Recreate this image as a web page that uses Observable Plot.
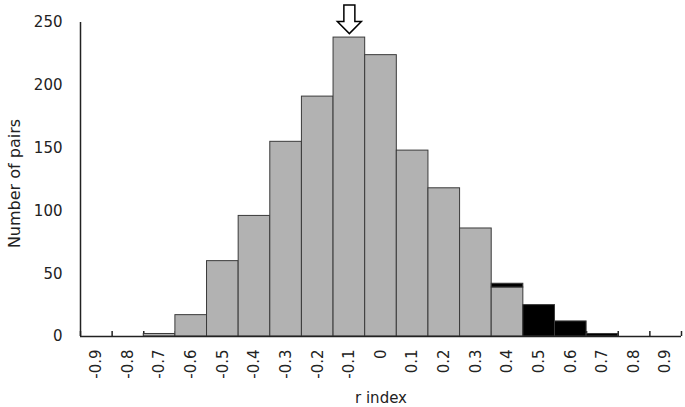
<!DOCTYPE html>
<html>
<head>
<meta charset="utf-8">
<script src="https://cdn.jsdelivr.net/npm/d3@7"></script>
<script src="https://cdn.jsdelivr.net/npm/@observablehq/plot@0.6"></script>
<style>
  html, body { margin: 0; padding: 0; background: #fff; }
  svg { display: block; }
</style>
</head>
<body>
<div id="chart"></div>
<script>
// Data
const categories = ["-0.9","-0.8","-0.7","-0.6","-0.5","-0.4","-0.3","-0.2","-0.1","0","0.1","0.2","0.3","0.4","0.5","0.6","0.7","0.8","0.9"];
const grayCounts  = [0, 0, 2, 17, 60, 96, 155, 191, 238, 224, 148, 118, 86, 39, 0, 0, 0, 0, 0];
const blackCounts = [0, 0, 0, 0, 0, 0, 0, 0, 0, 0, 0, 0, 0, 3, 25, 12, 2, 0, 0];
const yTicks = [0, 50, 100, 150, 200, 250];
const xTitle = "r index";
const yTitle = "Number of pairs";

const table = [];
categories.forEach((r, i) => {
  if (grayCounts[i] > 0) table.push({r, series: "main", count: grayCounts[i]});
  if (blackCounts[i] > 0) table.push({r, series: "high", count: blackCounts[i]});
});
const totals = categories.map((r, i) => ({r, total: grayCounts[i] + blackCounts[i]}));
const peak = [d3.greatest(totals, d => d.total)];

// layout
const W = 685, H = 407, mL = 80, mR = 4, mT = 22, mB = 71;
const bw = (W - mL - mR) / categories.length;
const ink = "#222";
const font = "DejaVu Sans, sans-serif";

const arrowSymbol = {
  draw(ctx) {
    ctx.moveTo(-5.5, -28.5);
    ctx.lineTo(5.5, -28.5);
    ctx.lineTo(5.5, -12);
    ctx.lineTo(12, -12);
    ctx.lineTo(0, 0);
    ctx.lineTo(-12, -12);
    ctx.lineTo(-5.5, -12);
    ctx.closePath();
  }
};

const chart = Plot.plot({
  width: W, height: H,
  marginLeft: mL, marginRight: mR, marginTop: mT, marginBottom: mB,
  style: {fontFamily: font, color: ink, background: "white"},
  x: {type: "band", domain: categories, padding: 0, round: false},
  y: {domain: [0, 250]},
  color: {domain: ["main", "high"], range: ["#b2b2b2", "#000000"]},
  marks: [
    // inside tick marks at category boundaries
    Plot.ruleX(categories, {x: d => d, y1: 0, y2: 4, dx: -bw / 2, stroke: ink, strokeWidth: 1.5}),
    Plot.ruleX([categories[categories.length - 1]], {x: d => d, y1: 0, y2: 4, dx: bw / 2, stroke: ink, strokeWidth: 1.5}),
    Plot.barY(table, {x: "r", y: "count", fill: "series", stroke: "#3a3a3a", strokeWidth: 1, inset: 0}),
    // axis lines
    Plot.ruleY([0], {stroke: ink, strokeWidth: 1.5}),
    Plot.ruleX([categories[0]], {x: d => d, y1: 0, y2: 250, dx: -bw / 2, stroke: ink, strokeWidth: 1.5}),
    Plot.axisY({ticks: yTicks, tickSize: 0, tickPadding: 18, fontSize: 15, label: null, tickFormat: d => String(d)}),
    Plot.axisX({tickSize: 0, tickPadding: 13, tickRotate: -90, textAnchor: "end", lineAnchor: "middle", fontSize: 15, label: null}),
    Plot.text([yTitle], {frameAnchor: "left", rotate: -90, textAnchor: "middle", lineAnchor: "middle", dx: -66, dy: 4, fontSize: 16, fill: ink}),
    Plot.text([xTitle], {frameAnchor: "bottom", textAnchor: "middle", lineAnchor: "middle", dy: 62, fontSize: 15, fill: ink}),
    // arrow marking the peak
    Plot.dot(peak, {x: "r", y: "total", symbol: arrowSymbol, r: 10, dy: -4, fill: "white", stroke: "black", strokeWidth: 1.5})
  ]
});
document.getElementById("chart").appendChild(chart);
</script>
</body>
</html>
